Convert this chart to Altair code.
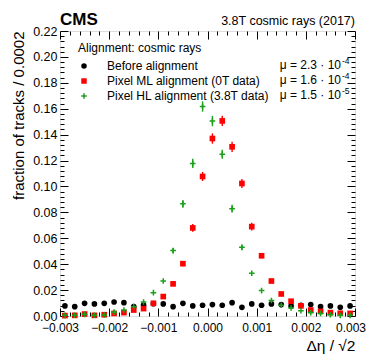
import altair as alt
import pandas as pd

# ---------------- data ----------------
bin_centers = [-0.0029, -0.0027, -0.0025, -0.0023, -0.0021, -0.0019, -0.0017, -0.0015, -0.0013, -0.0011,
               -0.0009, -0.0007, -0.0005, -0.0003, -0.0001, 0.0001, 0.0003, 0.0005, 0.0007, 0.0009,
               0.0011, 0.0013, 0.0015, 0.0017, 0.0019, 0.0021, 0.0023, 0.0025, 0.0027, 0.0029]

before = [0.0078, 0.0072, 0.0098, 0.0093, 0.0098, 0.0108, 0.0103, 0.0072, 0.0085, 0.0095,
          0.0093, 0.0072, 0.0098, 0.0078, 0.0083, 0.0088, 0.0083, 0.0103, 0.0067, 0.0093,
          0.0083, 0.0093, 0.0088, 0.0078, 0.0083, 0.0088, 0.0072, 0.0078, 0.0067, 0.0078]

pixel_ml = [0.0003, 0.0005, 0.0015, 0.0005, 0.0010, 0.0020, 0.0026, 0.0046, 0.0057, 0.0098,
            0.0150, 0.0248, 0.0404, 0.0680, 0.1077, 0.1370, 0.1506, 0.1306, 0.1023, 0.0690,
            0.0465, 0.0270, 0.0170, 0.0114, 0.0078, 0.0046, 0.0036, 0.0026, 0.0021, 0.0020]

pixel_hl = [0.0005, 0.0006, 0.0013, 0.0006, 0.0008, 0.0030, 0.0046, 0.0072, 0.0108, 0.0180,
            0.0270, 0.0505, 0.0866, 0.1178, 0.1617, 0.1505, 0.1248, 0.0828, 0.0530, 0.0330,
            0.0196, 0.0120, 0.0083, 0.0062, 0.0041, 0.0026, 0.0020, 0.0010, 0.0005, 0.0005]

ml_err = [0, 0, 0, 0, 0, 0, 0, 0, 0, 0,
          0, 0, 0.002, 0.003, 0.0035, 0.004, 0.004, 0.004, 0.0035, 0.003,
          0.002, 0, 0, 0, 0, 0, 0, 0, 0, 0]

hl_err = [0, 0, 0, 0, 0, 0, 0, 0, 0, 0,
          0, 0.002, 0.003, 0.0035, 0.004, 0.004, 0.0035, 0.003, 0.002, 0,
          0, 0, 0, 0, 0, 0, 0, 0, 0, 0]

series_names = ["Before alignment", "Pixel ML alignment (0T data)", "Pixel HL alignment (3.8T data)"]
series_colors = ["#000000", "#ff0000", "#1aa01a"]
plus_path = "M-1,-0.27L1,-0.27L1,0.27L-1,0.27Z M-0.27,-1L0.27,-1L0.27,1L-0.27,1Z"
series_shapes = ["circle", "square", plus_path]
mu_mantissa = ["μ = 2.3 · 10", "μ = 1.6 · 10", "μ = 1.5 · 10"]
mu_exponent = ["-4", "-4", "-5"]

x_major = [-0.003, -0.002, -0.001, 0.0, 0.001, 0.002, 0.003]
y_major = [0.00, 0.02, 0.04, 0.06, 0.08, 0.10, 0.12, 0.14, 0.16, 0.18, 0.20, 0.22]
x_ticks = [round(-0.003 + 0.0002 * i, 4) for i in range(31)]
y_ticks = [round(0.004 * i, 3) for i in range(56)]

# ---------------- frames ----------------
rows = []
for vals, errs, name in [(before, [0] * 30, series_names[0]),
                         (pixel_ml, ml_err, series_names[1]),
                         (pixel_hl, hl_err, series_names[2])]:
    for xc, v, e in zip(bin_centers, vals, errs):
        rows.append({"dx": xc, "frac": v, "lo": v - e, "hi": v + e, "err": e, "series": name})
df = pd.DataFrame(rows)

W, H = 295, 285
FONT = "Liberation Sans"

xs = alt.Scale(domain=[-0.003, 0.003], nice=False, zero=False)
ys = alt.Scale(domain=[0, 0.22], nice=False, zero=False)

x_test = "abs(datum.value*1000 - round(datum.value*1000)) < 0.001"
y_test = "abs(datum.value*50 - round(datum.value*50)) < 0.001"


def tick_axis(orient, offset, values, test):
    return alt.Axis(orient=orient, offset=offset, values=values, labels=False, domain=False,
                    grid=False, title="", ticks=True, tickColor="black", tickWidth=1,
                    tickSize={"condition": {"test": test, "value": 8}, "value": 4})


x_label_axis = alt.Axis(orient="bottom", values=x_major, format=".3f", ticks=False, domain=False,
                        grid=False, labelFontSize=12, labelPadding=6, labelFlush=False,
                        labelOverlap=False, labelColor="black",
                        labelOffset={"condition": {"test": "datum.value > 0.0029", "value": -4.5},
                                     "value": 0},
                        title="Δη / √2", titleAnchor="end", titleFontSize=15.5,
                        titleFontWeight="normal", titlePadding=5, titleColor="black")
y_label_axis = alt.Axis(orient="left", values=y_major, format=".2f", ticks=False, domain=False,
                        grid=False, labelFontSize=12.5, labelPadding=3, labelFlush=False,
                        labelOverlap=False, labelColor="black",
                        title="fraction of tracks / 0.0002", titleAnchor="end", titleFontSize=15,
                        titleFontWeight="normal", titlePadding=6, titleColor="black")

legend = alt.Legend(title="Alignment: cosmic rays", orient="none", legendX=18, legendY=12,
                    titleFontSize=12, titleFontWeight="normal", titleColor="black",
                    labelFontSize=12, labelColor="black", symbolSize=30, labelOffset=17,
                    rowPadding=3, titlePadding=5, padding=0, symbolStrokeWidth=0, labelLimit=400)

err_layers = []
for name, col, xax, yax in [
    (series_names[1], series_colors[1], tick_axis("top", -H, x_ticks, x_test), tick_axis("right", -W, y_ticks, y_test)),
    (series_names[2], series_colors[2], tick_axis("bottom", -H, x_ticks, x_test), tick_axis("left", -W, y_ticks, y_test)),
]:
    sub = df[(df["series"] == name) & (df["err"] > 0)]
    err_layers.append(
        alt.Chart(sub).mark_rule(color=col, strokeWidth=1.4).encode(
            x=alt.X("dx:Q", scale=xs, axis=xax),
            y=alt.Y("lo:Q", scale=ys, axis=yax),
            y2="hi:Q",
        )
    )

points = alt.Chart(df).mark_point(filled=True, size=32, opacity=1).encode(
    x=alt.X("dx:Q", scale=xs, axis=x_label_axis),
    y=alt.Y("frac:Q", scale=ys, axis=y_label_axis),
    color=alt.Color("series:N", scale=alt.Scale(domain=series_names, range=series_colors), legend=legend),
    shape=alt.Shape("series:N", scale=alt.Scale(domain=series_names, range=series_shapes), legend=legend),
)

text_layers = []
for i, (mant, expo) in enumerate(zip(mu_mantissa, mu_exponent)):
    text_layers.append(
        alt.Chart(pd.DataFrame({"t": [mant]})).mark_text(
            align="right", baseline="alphabetic", fontSize=12, color="black", dy=15 * i
        ).encode(x=alt.value(281), y=alt.value(37.5), text="t:N")
    )
    text_layers.append(
        alt.Chart(pd.DataFrame({"t": [expo]})).mark_text(
            align="left", baseline="alphabetic", fontSize=8.5, color="black", dy=15 * i
        ).encode(x=alt.value(282), y=alt.value(32.5), text="t:N")
    )

cms = alt.Chart(pd.DataFrame({"t": ["CMS"]})).mark_text(
    align="left", baseline="alphabetic", fontSize=17, fontWeight="bold", color="black"
).encode(x=alt.value(0), y=alt.value(-6.5), text="t:N")

energy = alt.Chart(pd.DataFrame({"t": ["3.8T cosmic rays (2017)"]})).mark_text(
    align="right", baseline="alphabetic", fontSize=12.5, color="black"
).encode(x=alt.value(W), y=alt.value(-6.5), text="t:N")

chart = alt.layer(*err_layers, points, *text_layers, cms, energy).properties(
    width=W, height=H,
    padding={"left": 52, "top": 23, "right": 11, "bottom": 39},
    autosize=alt.AutoSizeParams(type="none"),
).resolve_axis(x="independent", y="independent").configure_view(
    stroke="black", strokeWidth=1
).configure(font=FONT)

chart.save("out.html", embed_options={"renderer": "svg", "actions": False})
